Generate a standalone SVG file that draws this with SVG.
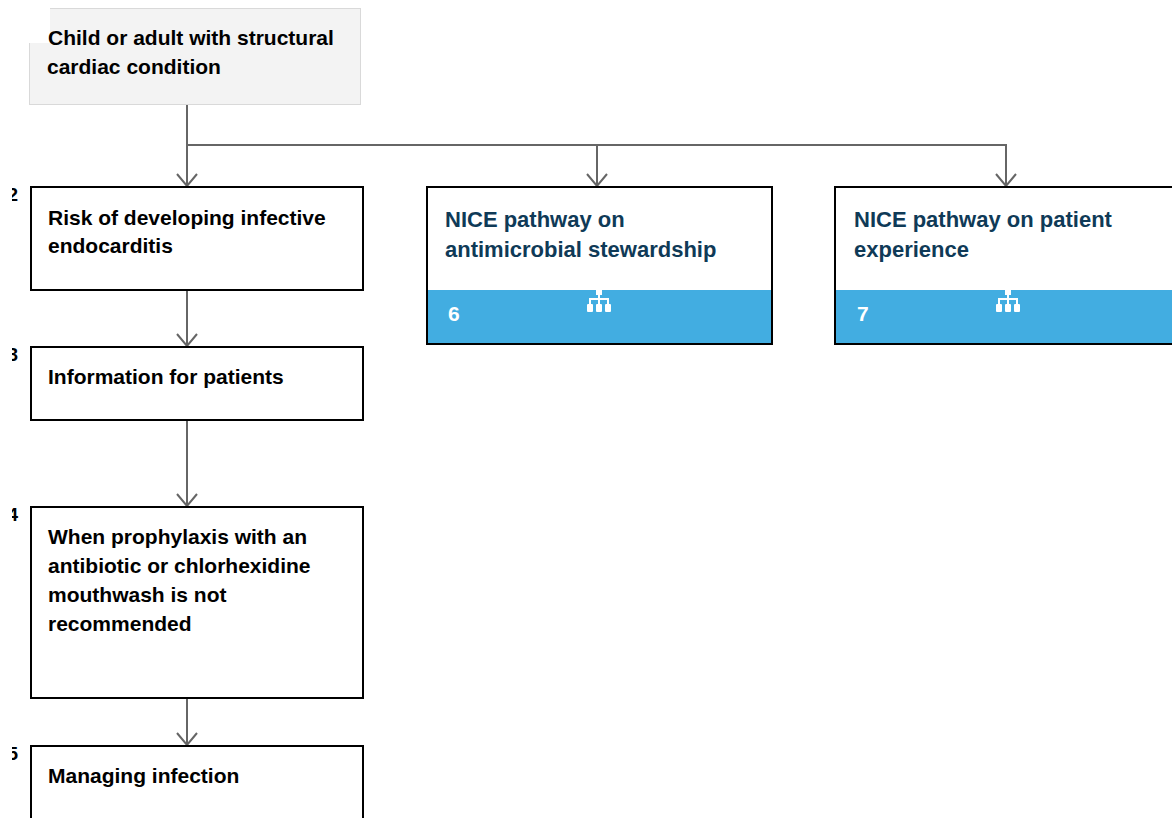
<svg xmlns="http://www.w3.org/2000/svg" width="1172" height="818" viewBox="0 0 1172 818">
<style>
.t{font-family:"Liberation Sans",Arial,sans-serif;font-weight:bold;font-size:21px;fill:#000}
.n{font-family:"Liberation Sans",Arial,sans-serif;font-weight:bold;font-size:22px;fill:#0f3a57}
.w{font-family:"Liberation Sans",Arial,sans-serif;font-weight:bold;font-size:21px;fill:#fff}
.d{font-family:"Liberation Sans",Arial,sans-serif;font-weight:bold;font-size:19px;fill:#000}
.box{fill:#fff;stroke:#000;stroke-width:2}
.band{fill:#42ade1}
.c{fill:none;stroke:#666;stroke-width:2}
</style>
<defs>
<marker id="ar" markerWidth="16" markerHeight="26" viewBox="-15 -13 16 26" refX="0" refY="0" orient="auto" markerUnits="userSpaceOnUse">
<path d="M-12,-10 L0,0 L-12,10" fill="none" stroke="#666" stroke-width="2"/>
</marker>
<clipPath id="clipd"><rect x="12" y="0" width="20" height="818"/></clipPath>
<g id="icon" fill="#fff">
<rect x="-3" y="0" width="6" height="5"/>
<rect x="-1" y="4" width="2" height="5"/>
<rect x="-10" y="8" width="20" height="2"/>
<rect x="-10" y="8" width="2" height="6"/>
<rect x="8" y="8" width="2" height="6"/>
<rect x="-1" y="8" width="2" height="6"/>
<rect x="-12" y="14" width="6" height="8" rx="1"/>
<rect x="-3" y="14" width="6" height="8" rx="1"/>
<rect x="6" y="14" width="6" height="8" rx="1"/>
</g>
</defs>
<rect width="1172" height="818" fill="#fff"/>

<g id="numbers" clip-path="url(#clipd)">
<text class="d" x="18" y="201" text-anchor="end">2</text>
<text class="d" x="18" y="361" text-anchor="end">3</text>
<text class="d" x="18" y="521" text-anchor="end">4</text>
<text class="d" x="18" y="760" text-anchor="end">5</text>
</g>

<g id="connectors">
<path class="c" d="M187,105 V186" marker-end="url(#ar)"/>
<path class="c" d="M187,145 H1006 V186" marker-end="url(#ar)"/>
<path class="c" d="M597,145 V186" marker-end="url(#ar)"/>
<path class="c" d="M187,290 V346" marker-end="url(#ar)"/>
<path class="c" d="M187,420 V506" marker-end="url(#ar)"/>
<path class="c" d="M187,698 V745" marker-end="url(#ar)"/>
</g>

<g id="n1">
<rect x="29.5" y="8.5" width="331" height="96" fill="#f3f3f3" stroke="#d9d9d9" stroke-width="1"/>
<rect x="28" y="0" width="22" height="43" fill="#fff"/>
<text class="t" x="48" y="45">Child or adult with structural</text>
<text class="t" x="47" y="74">cardiac condition</text>
</g>

<g id="n2">
<rect class="box" x="31" y="187" width="332" height="103"/>
<text class="t" x="48" y="225">Risk of developing infective</text>
<text class="t" x="48" y="253">endocarditis</text>
</g>

<g id="n3">
<rect class="box" x="31" y="347" width="332" height="73"/>
<text class="t" x="48" y="384">Information for patients</text>
</g>

<g id="n4">
<rect class="box" x="31" y="507" width="332" height="191"/>
<text class="t" x="48" y="544">When prophylaxis with an</text>
<text class="t" x="48" y="573">antibiotic or chlorhexidine</text>
<text class="t" x="48" y="602">mouthwash is not</text>
<text class="t" x="48" y="631">recommended</text>
</g>

<g id="n5">
<rect class="box" x="31" y="746" width="332" height="90"/>
<text class="t" x="48" y="783">Managing infection</text>
</g>

<g id="n6">
<rect class="box" x="427" y="187" width="345" height="157"/>
<rect class="band" x="428" y="290" width="343" height="53"/>
<text class="n" x="445" y="227">NICE pathway on</text>
<text class="n" x="445" y="257">antimicrobial stewardship</text>
<text class="w" x="448" y="321">6</text>
<use href="#icon" x="599" y="290"/>
</g>

<g id="n7">
<rect class="box" x="835" y="187" width="360" height="157"/>
<rect class="band" x="836" y="290" width="360" height="53"/>
<text class="n" x="854" y="227">NICE pathway on patient</text>
<text class="n" x="854" y="257">experience</text>
<text class="w" x="857" y="321">7</text>
<use href="#icon" x="1008" y="290"/>
</g>
</svg>
